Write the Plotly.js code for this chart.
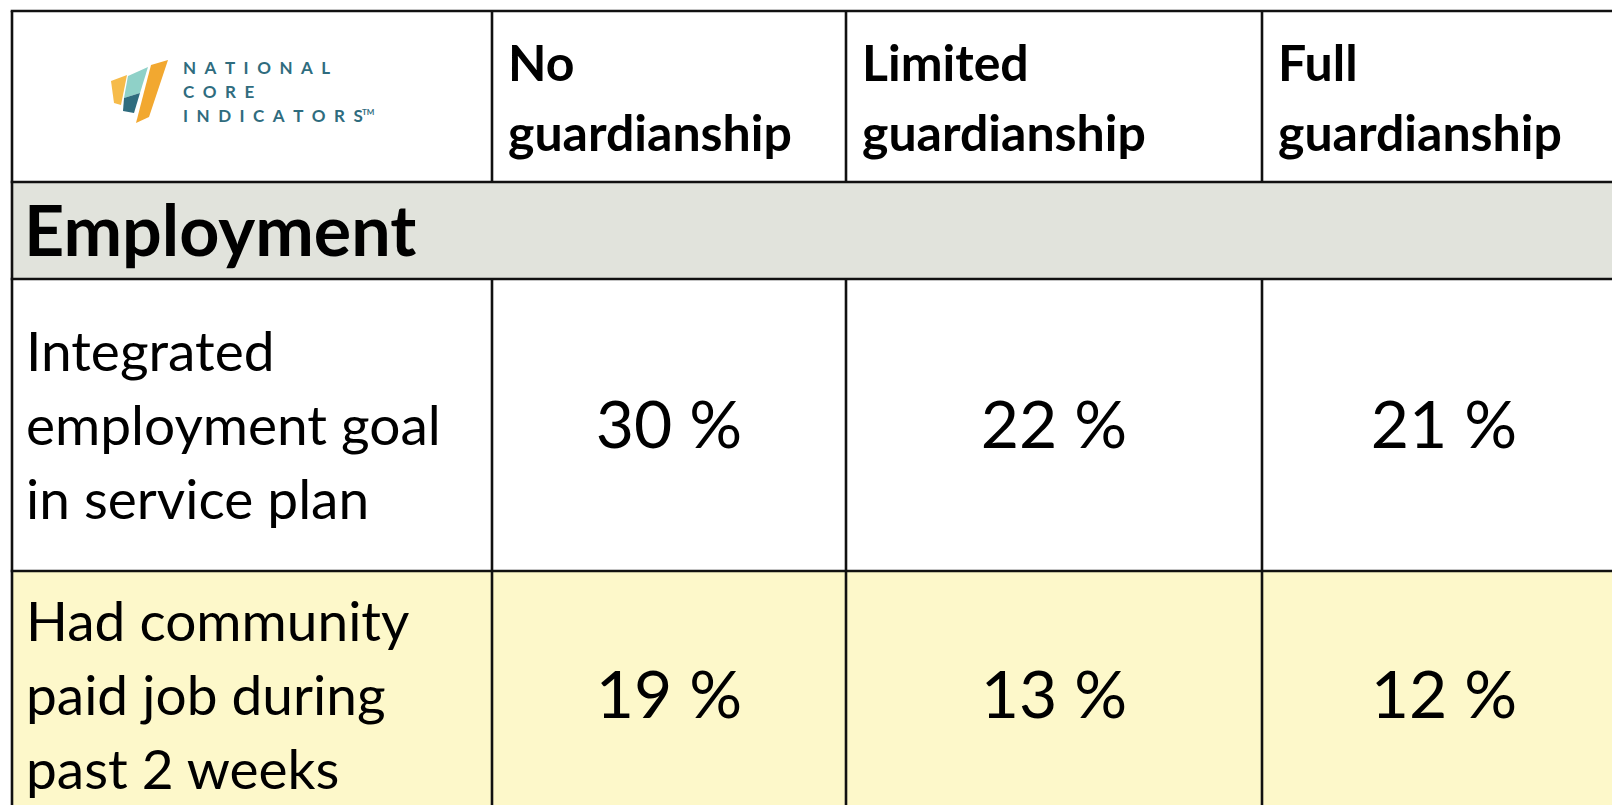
<!DOCTYPE html>
<html>
<head>
<meta charset="utf-8">
<script src="https://cdn.plot.ly/plotly-3.0.1.min.js"></script>
<style>
  html, body { margin: 0; padding: 0; background: #ffffff; }
  #chart { width: 1612px; height: 805px; }
</style>
</head>
<body>
<div id="chart"></div>
<script>
// ---------------- DATA ----------------
const columnHeaders = [
  ["No", "guardianship"],
  ["Limited", "guardianship"],
  ["Full", "guardianship"]
];
const sectionTitle = "Employment";
const rowLabels = [
  ["Integrated", "employment goal", "in service plan"],
  ["Had community", "paid job during", "past 2 weeks"]
];
const noGuardianship      = [30, 19];
const limitedGuardianship = [22, 13];
const fullGuardianship    = [21, 12];
const logoLines = ["NATIONAL", "CORE", "INDICATORS"];
const logoMark = "TM";

// ---------------- LAYOUT GEOMETRY / STYLE ----------------
const W = 1612, H = 805;
const colEdges = [12, 492, 846, 1262, 1626];
const rowEdges = [11, 182, 279, 571, 819];
const rowFills = ["#ffffff", "#e1e3dc", "#ffffff", "#fdf8ca"];
const borderColor = "#111111";
const borderWidth = 2.6;
const FONT = "Lato, 'Open Sans', 'Noto Sans', sans-serif";
const headerLineY = [68, 138];
const labelLineGap = 74;
const textShift = 6;     // optical centring offset of text lines
const padX = 14;

const rowCenter = r => (rowEdges[r] + rowEdges[r + 1]) / 2;
const colCenter = c => (colEdges[c] + colEdges[c + 1]) / 2;

// ---------------- SHAPES (cells & borders) ----------------
const shapes = [];
for (let r = 0; r < rowFills.length; r++) {
  shapes.push({
    type: "rect", xref: "x", yref: "y", layer: "below",
    x0: colEdges[0], x1: colEdges[colEdges.length - 1],
    y0: rowEdges[r], y1: rowEdges[r + 1],
    fillcolor: rowFills[r], line: { width: 0 }
  });
}
rowEdges.forEach(y => shapes.push({
  type: "line", xref: "x", yref: "y",
  x0: colEdges[0] - borderWidth / 2, x1: colEdges[colEdges.length - 1],
  y0: y, y1: y, line: { color: borderColor, width: borderWidth }
}));
colEdges.forEach((x, ci) => {
  const outer = (ci === 0 || ci === colEdges.length - 1);
  for (let r = 0; r < rowFills.length; r++) {
    if (!outer && r === 1) continue;   // section row is merged across columns
    shapes.push({
      type: "line", xref: "x", yref: "y",
      x0: x, x1: x, y0: rowEdges[r], y1: rowEdges[r + 1],
      line: { color: borderColor, width: borderWidth }
    });
  }
});

// ---------------- LOGO (decorative paths) ----------------
const logoColors = { orange: "#f2a830", orangeLight: "#f6bb4a", teal: "#8fd1c8", darkTeal: "#2f6c7e" };
function poly(pts) { return "M" + pts.map(p => p[0] + "," + p[1]).join(" L") + " Z"; }
const logoPaths = [
  { d: [[111, 81], [127, 75], [121, 105], [114, 103]], c: logoColors.orangeLight },
  { d: [[128, 76], [148, 67], [140, 93], [124, 98]], c: logoColors.teal },
  { d: [[124, 98], [140, 93], [134, 113], [123, 111]], c: logoColors.darkTeal },
  { d: [[151, 65], [168, 60], [149, 117], [136, 123]], c: logoColors.orange }
];
logoPaths.forEach(p => shapes.push({
  type: "path", xref: "x", yref: "y", path: poly(p.d),
  fillcolor: p.c, line: { width: 0 }
}));

// ---------------- TEXT TRACES ----------------
const traces = [];
const baseText = { type: "scatter", mode: "text", hoverinfo: "skip", showlegend: false, cliponaxis: false };

// column headers
{
  const x = [], y = [], t = [];
  columnHeaders.forEach((lines, j) => lines.forEach((ln, i) => {
    x.push(colEdges[j + 1] + 16); y.push(headerLineY[i]); t.push(ln);
  }));
  traces.push(Object.assign({}, baseText, {
    x, y, text: t, textposition: "middle right",
    textfont: { family: FONT, size: 50, color: "#000000", weight: 700 }
  }));
}
// section title
traces.push(Object.assign({}, baseText, {
  x: [colEdges[0] + 12], y: [rowCenter(1) + textShift + 2], text: [sectionTitle],
  textposition: "middle right",
  textfont: { family: FONT, size: 70, color: "#000000", weight: 700 }
}));
// row labels
{
  const x = [], y = [], t = [];
  rowLabels.forEach((lines, r) => lines.forEach((ln, i) => {
    x.push(colEdges[0] + padX);
    y.push(rowCenter(r + 2) + textShift + (i - (lines.length - 1) / 2) * labelLineGap);
    t.push(ln);
  }));
  traces.push(Object.assign({}, baseText, {
    x, y, text: t, textposition: "middle right",
    textfont: { family: FONT, size: 55, color: "#000000" }
  }));
}
// values
[noGuardianship, limitedGuardianship, fullGuardianship].forEach((series, j) => {
  traces.push(Object.assign({}, baseText, {
    x: series.map(() => colCenter(j + 1)),
    y: series.map((v, r) => rowCenter(r + 2) + textShift),
    text: series.map(v => v + " %"),
    textposition: "middle center",
    textfont: { family: FONT, size: 66, color: "#000000" }
  }));
});
// logo words
{
  const spaced = s => s.split("").join("\u2002");
  traces.push(Object.assign({}, baseText, {
    x: logoLines.map(() => 183),
    y: [70, 94, 118],
    text: logoLines.map(spaced),
    textposition: "middle right",
    textfont: { family: FONT, size: 17, color: "#2f6c7e", weight: 700 }
  }));
  traces.push(Object.assign({}, baseText, {
    x: [362], y: [113], text: [logoMark],
    textposition: "middle right",
    textfont: { family: FONT, size: 8, color: "#2f6c7e", weight: 700 }
  }));
}

const layout = {
  width: W, height: H,
  margin: { l: 0, r: 0, t: 0, b: 0 },
  paper_bgcolor: "#ffffff", plot_bgcolor: "#ffffff",
  xaxis: { range: [0, W], visible: false, fixedrange: true },
  yaxis: { range: [H, 0], visible: false, fixedrange: true },
  shapes: shapes,
  showlegend: false
};

Plotly.newPlot("chart", traces, layout, { staticPlot: true, displayModeBar: false });
</script>
</body>
</html>
